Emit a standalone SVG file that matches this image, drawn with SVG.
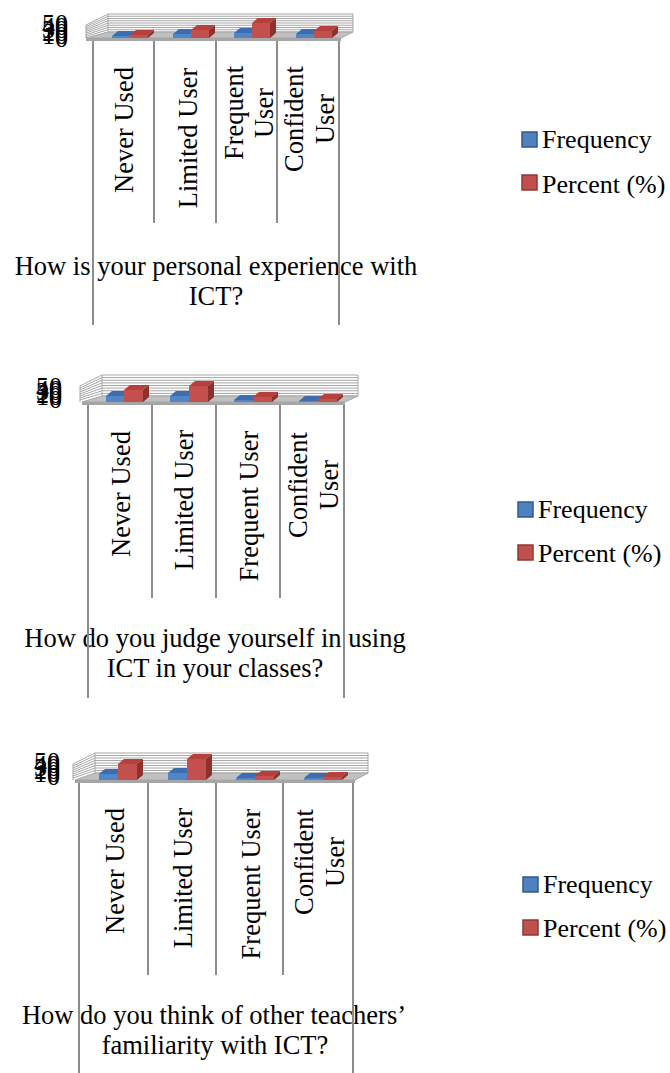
<svg xmlns="http://www.w3.org/2000/svg" width="670" height="1073" viewBox="0 0 670 1073">
<style>
text{font-family:"Liberation Serif","Times New Roman",serif;font-size:26px;fill:#000}
.mid{text-anchor:middle}
.end{text-anchor:end}
.ttl{font-size:26.5px}
.cat{font-size:26.5px}
.grid{stroke:#a6a6a6;stroke-width:1;fill:none}
.floor{fill:#c0c0c0;stroke:#a6a6a6;stroke-width:1}
.band{fill:#a6a6a6}
.vl{stroke:#8c8c8c;stroke-width:2}
.bf{fill:#4f86c6}.bt{fill:#3d6dae}.bs{fill:#2f5a8f}
.rf{fill:#c4504d}.rt{fill:#b5403d}.rs{fill:#8e302d}
.lb{fill:#4f81bd;stroke:#2f5a8f;stroke-width:1.5}
.lr{fill:#c0504d;stroke:#8c3836;stroke-width:1.5}
</style>

<!-- ================= Chart 1 ================= -->
<g id="chart1">
  <g id="c1-plot">
    <path class="grid" d="M108 14H353M108 16.25H353M108 18.5H353M108 20.75H353M108 23H353M108 25.25H353M108 27.5H353M108 29.75H353M108 32H353M353 14V32"/>
    <path class="grid" d="M86 25L108 14M86 26.6L108 16.25M86 28.25L108 18.5M86 29.9L108 20.75M86 31.5L108 23M86 33.1L108 25.25M86 34.75L108 27.5M86 36.4L108 29.75M86 25V38M108 14V32"/>
    <polygon class="floor" points="86,38 341,38 353,32 108,32"/>
    <polygon class="band" points="86,38 341,38 341,41 86,41"/>
  </g>
  <g id="c1-bars">
    <rect class="bf" x="112" y="36" width="18" height="2"/><polygon class="bt" points="112,36 118,31 136,31 130,36"/>
    <rect class="rf" x="130" y="35" width="18" height="3"/><polygon class="rt" points="130,35 136,30 154,30 148,35"/><polygon class="rs" points="148,35 154,30 154,33 148,38"/>
    <rect class="bf" x="173" y="34" width="18" height="4"/><polygon class="bt" points="173,34 179,29 197,29 191,34"/>
    <rect class="rf" x="191" y="30" width="18" height="8"/><polygon class="rt" points="191,30 197,25 215,25 209,30"/><polygon class="rs" points="209,30 215,25 215,33 209,38"/>
    <rect class="bf" x="234" y="33" width="18" height="5"/><polygon class="bt" points="234,33 240,28 258,28 252,33"/>
    <rect class="rf" x="252" y="23" width="18" height="15"/><polygon class="rt" points="252,23 258,18 276,18 270,23"/><polygon class="rs" points="270,23 276,18 276,33 270,38"/>
    <rect class="bf" x="296" y="34" width="18" height="4"/><polygon class="bt" points="296,34 302,29 320,29 314,34"/>
    <rect class="rf" x="314" y="31" width="18" height="7"/><polygon class="rt" points="314,31 320,26 338,26 332,31"/><polygon class="rs" points="332,31 338,26 338,33 332,38"/>
  </g>
  <g id="c1-axis">
    <text class="end" x="68" y="32">50</text>
    <text class="end" x="68" y="35">40</text>
    <text class="end" x="68" y="38">30</text>
    <text class="end" x="68" y="41">20</text>
    <text class="end" x="68" y="44">10</text>
    <text class="end" x="68" y="47">0</text>
  </g>
  <g id="c1-cats">
    <text class="mid cat" transform="translate(133,130) rotate(-90)">Never Used</text>
    <text class="mid cat" transform="translate(197,138) rotate(-90)">Limited User</text>
    <text class="mid cat" transform="translate(243,113) rotate(-90)">Frequent</text>
    <text class="mid cat" transform="translate(273,113) rotate(-90)">User</text>
    <text class="mid cat" transform="translate(303,119) rotate(-90)">Confident</text>
    <text class="mid cat" transform="translate(334,119) rotate(-90)">User</text>
  </g>
  <g id="c1-title">
    <text class="mid ttl" x="216" y="275">How is your personal experience with</text>
    <text class="mid ttl" x="216" y="305">ICT?</text>
  </g>
  <g id="c1-lines">
    <path class="vl" d="M93 41V325M154 41V223M216 41V223M277 41V223M339 41V325"/>
  </g>
  <g id="c1-legend">
    <rect class="lb" x="522" y="132" width="15" height="15"/>
    <text x="542" y="148">Frequency</text>
    <rect class="lr" x="522" y="175" width="15" height="15"/>
    <text x="542" y="193">Percent (%)</text>
  </g>
</g>

<!-- ================= Chart 2 ================= -->
<g id="chart2">
  <g id="c2-plot">
    <path class="grid" d="M102 375H358M102 377.6H358M102 380.25H358M102 382.9H358M102 385.5H358M102 388.1H358M102 390.75H358M102 393.4H358M102 396H358M358 375V396"/>
    <path class="grid" d="M80 386L102 375M80 388L102 377.6M80 390L102 380.25M80 392L102 382.9M80 394L102 385.5M80 396L102 388.1M80 398L102 390.75M80 400L102 393.4M80 386V402M102 375V396"/>
    <polygon class="floor" points="82,402 345,402 358,396 102,396"/>
    <polygon class="band" points="82,402 345,402 345,405 82,405"/>
  </g>
  <g id="c2-bars">
    <rect class="bf" x="106" y="396" width="18" height="6"/><polygon class="bt" points="106,396 112,391 130,391 124,396"/>
    <rect class="rf" x="124" y="390" width="19" height="12"/><polygon class="rt" points="124,390 130,385 149,385 143,390"/><polygon class="rs" points="143,390 149,385 149,397 143,402"/>
    <rect class="bf" x="170" y="396" width="19" height="6"/><polygon class="bt" points="170,396 176,391 195,391 189,396"/>
    <rect class="rf" x="189" y="386" width="19" height="16"/><polygon class="rt" points="189,386 195,381 214,381 208,386"/><polygon class="rs" points="208,386 214,381 214,397 208,402"/>
    <rect class="bf" x="234" y="400" width="19" height="2"/><polygon class="bt" points="234,400 240,395 259,395 253,400"/>
    <rect class="rf" x="253" y="397" width="19" height="5"/><polygon class="rt" points="253,397 259,392 278,392 272,397"/><polygon class="rs" points="272,397 278,392 278,397 272,402"/>
    <rect class="bf" x="299" y="401" width="19" height="1"/><polygon class="bt" points="299,401 305,396 324,396 318,401"/>
    <rect class="rf" x="318" y="399" width="19" height="3"/><polygon class="rt" points="318,399 324,394 343,394 337,399"/><polygon class="rs" points="337,399 343,394 343,397 337,402"/>
  </g>
  <g id="c2-axis">
    <text class="end" x="62" y="395">50</text>
    <text class="end" x="62" y="397.5">40</text>
    <text class="end" x="62" y="400">30</text>
    <text class="end" x="62" y="402.5">20</text>
    <text class="end" x="62" y="405">10</text>
    <text class="end" x="62" y="408">0</text>
  </g>
  <g id="c2-cats">
    <text class="mid cat" transform="translate(130,494) rotate(-90)">Never Used</text>
    <text class="mid cat" transform="translate(193,500) rotate(-90)">Limited User</text>
    <text class="mid cat" transform="translate(258,506) rotate(-90)">Frequent User</text>
    <text class="mid cat" transform="translate(307,485) rotate(-90)">Confident</text>
    <text class="mid cat" transform="translate(338,485) rotate(-90)">User</text>
  </g>
  <g id="c2-title">
    <text class="mid ttl" x="215" y="647">How do you judge yourself in using</text>
    <text class="mid ttl" x="215" y="677">ICT in your classes?</text>
  </g>
  <g id="c2-lines">
    <path class="vl" d="M88 405V698M152 405V598M216 405V598M280 405V598M344 405V698"/>
  </g>
  <g id="c2-legend">
    <rect class="lb" x="518" y="502" width="15" height="15"/>
    <text x="538" y="518">Frequency</text>
    <rect class="lr" x="518" y="545" width="15" height="15"/>
    <text x="538" y="562">Percent (%)</text>
  </g>
</g>

<!-- ================= Chart 3 ================= -->
<g id="chart3">
  <g id="c3-plot">
    <path class="grid" d="M95 753H368M95 755.5H368M95 758H368M95 760.5H368M95 763H368M95 765.5H368M95 768H368M95 770.5H368M95 773H368M368 753V773"/>
    <path class="grid" d="M73 764L95 753M73 766L95 755.5M73 768L95 758M73 770L95 760.5M73 772L95 763M73 774L95 765.5M73 776L95 768M73 778L95 770.5M73 764V780M95 753V773"/>
    <polygon class="floor" points="75,780 355,780 368,773 95,773"/>
    <polygon class="band" points="75,780 355,780 355,783 75,783"/>
  </g>
  <g id="c3-bars">
    <rect class="bf" x="99" y="774" width="19" height="6"/><polygon class="bt" points="99,774 105,769 124,769 118,774"/>
    <rect class="rf" x="118" y="764" width="19" height="16"/><polygon class="rt" points="118,764 124,759 143,759 137,764"/><polygon class="rs" points="137,764 143,759 143,775 137,780"/>
    <rect class="bf" x="168" y="773" width="19" height="7"/><polygon class="bt" points="168,773 174,768 193,768 187,773"/>
    <rect class="rf" x="187" y="759" width="19" height="21"/><polygon class="rt" points="187,759 193,754 212,754 206,759"/><polygon class="rs" points="206,759 212,754 212,775 206,780"/>
    <rect class="bf" x="236" y="778" width="19" height="2"/><polygon class="bt" points="236,778 242,773 261,773 255,778"/>
    <rect class="rf" x="255" y="776" width="19" height="4"/><polygon class="rt" points="255,776 261,771 280,771 274,776"/><polygon class="rs" points="274,776 280,771 280,775 274,780"/>
    <rect class="bf" x="304" y="778" width="19" height="2"/><polygon class="bt" points="304,778 310,773 329,773 323,778"/>
    <rect class="rf" x="323" y="777" width="19" height="3"/><polygon class="rt" points="323,777 329,772 348,772 342,777"/><polygon class="rs" points="342,777 348,772 348,775 342,780"/>
  </g>
  <g id="c3-axis">
    <text class="end" x="60" y="770">50</text>
    <text class="end" x="60" y="773">40</text>
    <text class="end" x="60" y="776">30</text>
    <text class="end" x="60" y="779">20</text>
    <text class="end" x="60" y="782">10</text>
    <text class="end" x="60" y="785">0</text>
  </g>
  <g id="c3-cats">
    <text class="mid cat" transform="translate(124,871) rotate(-90)">Never Used</text>
    <text class="mid cat" transform="translate(192,878) rotate(-90)">Limited User</text>
    <text class="mid cat" transform="translate(260,884) rotate(-90)">Frequent User</text>
    <text class="mid cat" transform="translate(313,862) rotate(-90)">Confident</text>
    <text class="mid cat" transform="translate(344,862) rotate(-90)">User</text>
  </g>
  <g id="c3-title">
    <text class="mid ttl" x="214" y="1024">How do you think of other teachers’</text>
    <text class="mid ttl" x="215" y="1054">familiarity with ICT?</text>
  </g>
  <g id="c3-lines">
    <path class="vl" d="M79 783V1073M148 783V975M216 783V975M283 783V975M353 783V1073"/>
  </g>
  <g id="c3-legend">
    <rect class="lb" x="523" y="877" width="15" height="15"/>
    <text x="543" y="893">Frequency</text>
    <rect class="lr" x="523" y="920" width="15" height="15"/>
    <text x="543" y="937">Percent (%)</text>
  </g>
</g>
</svg>
